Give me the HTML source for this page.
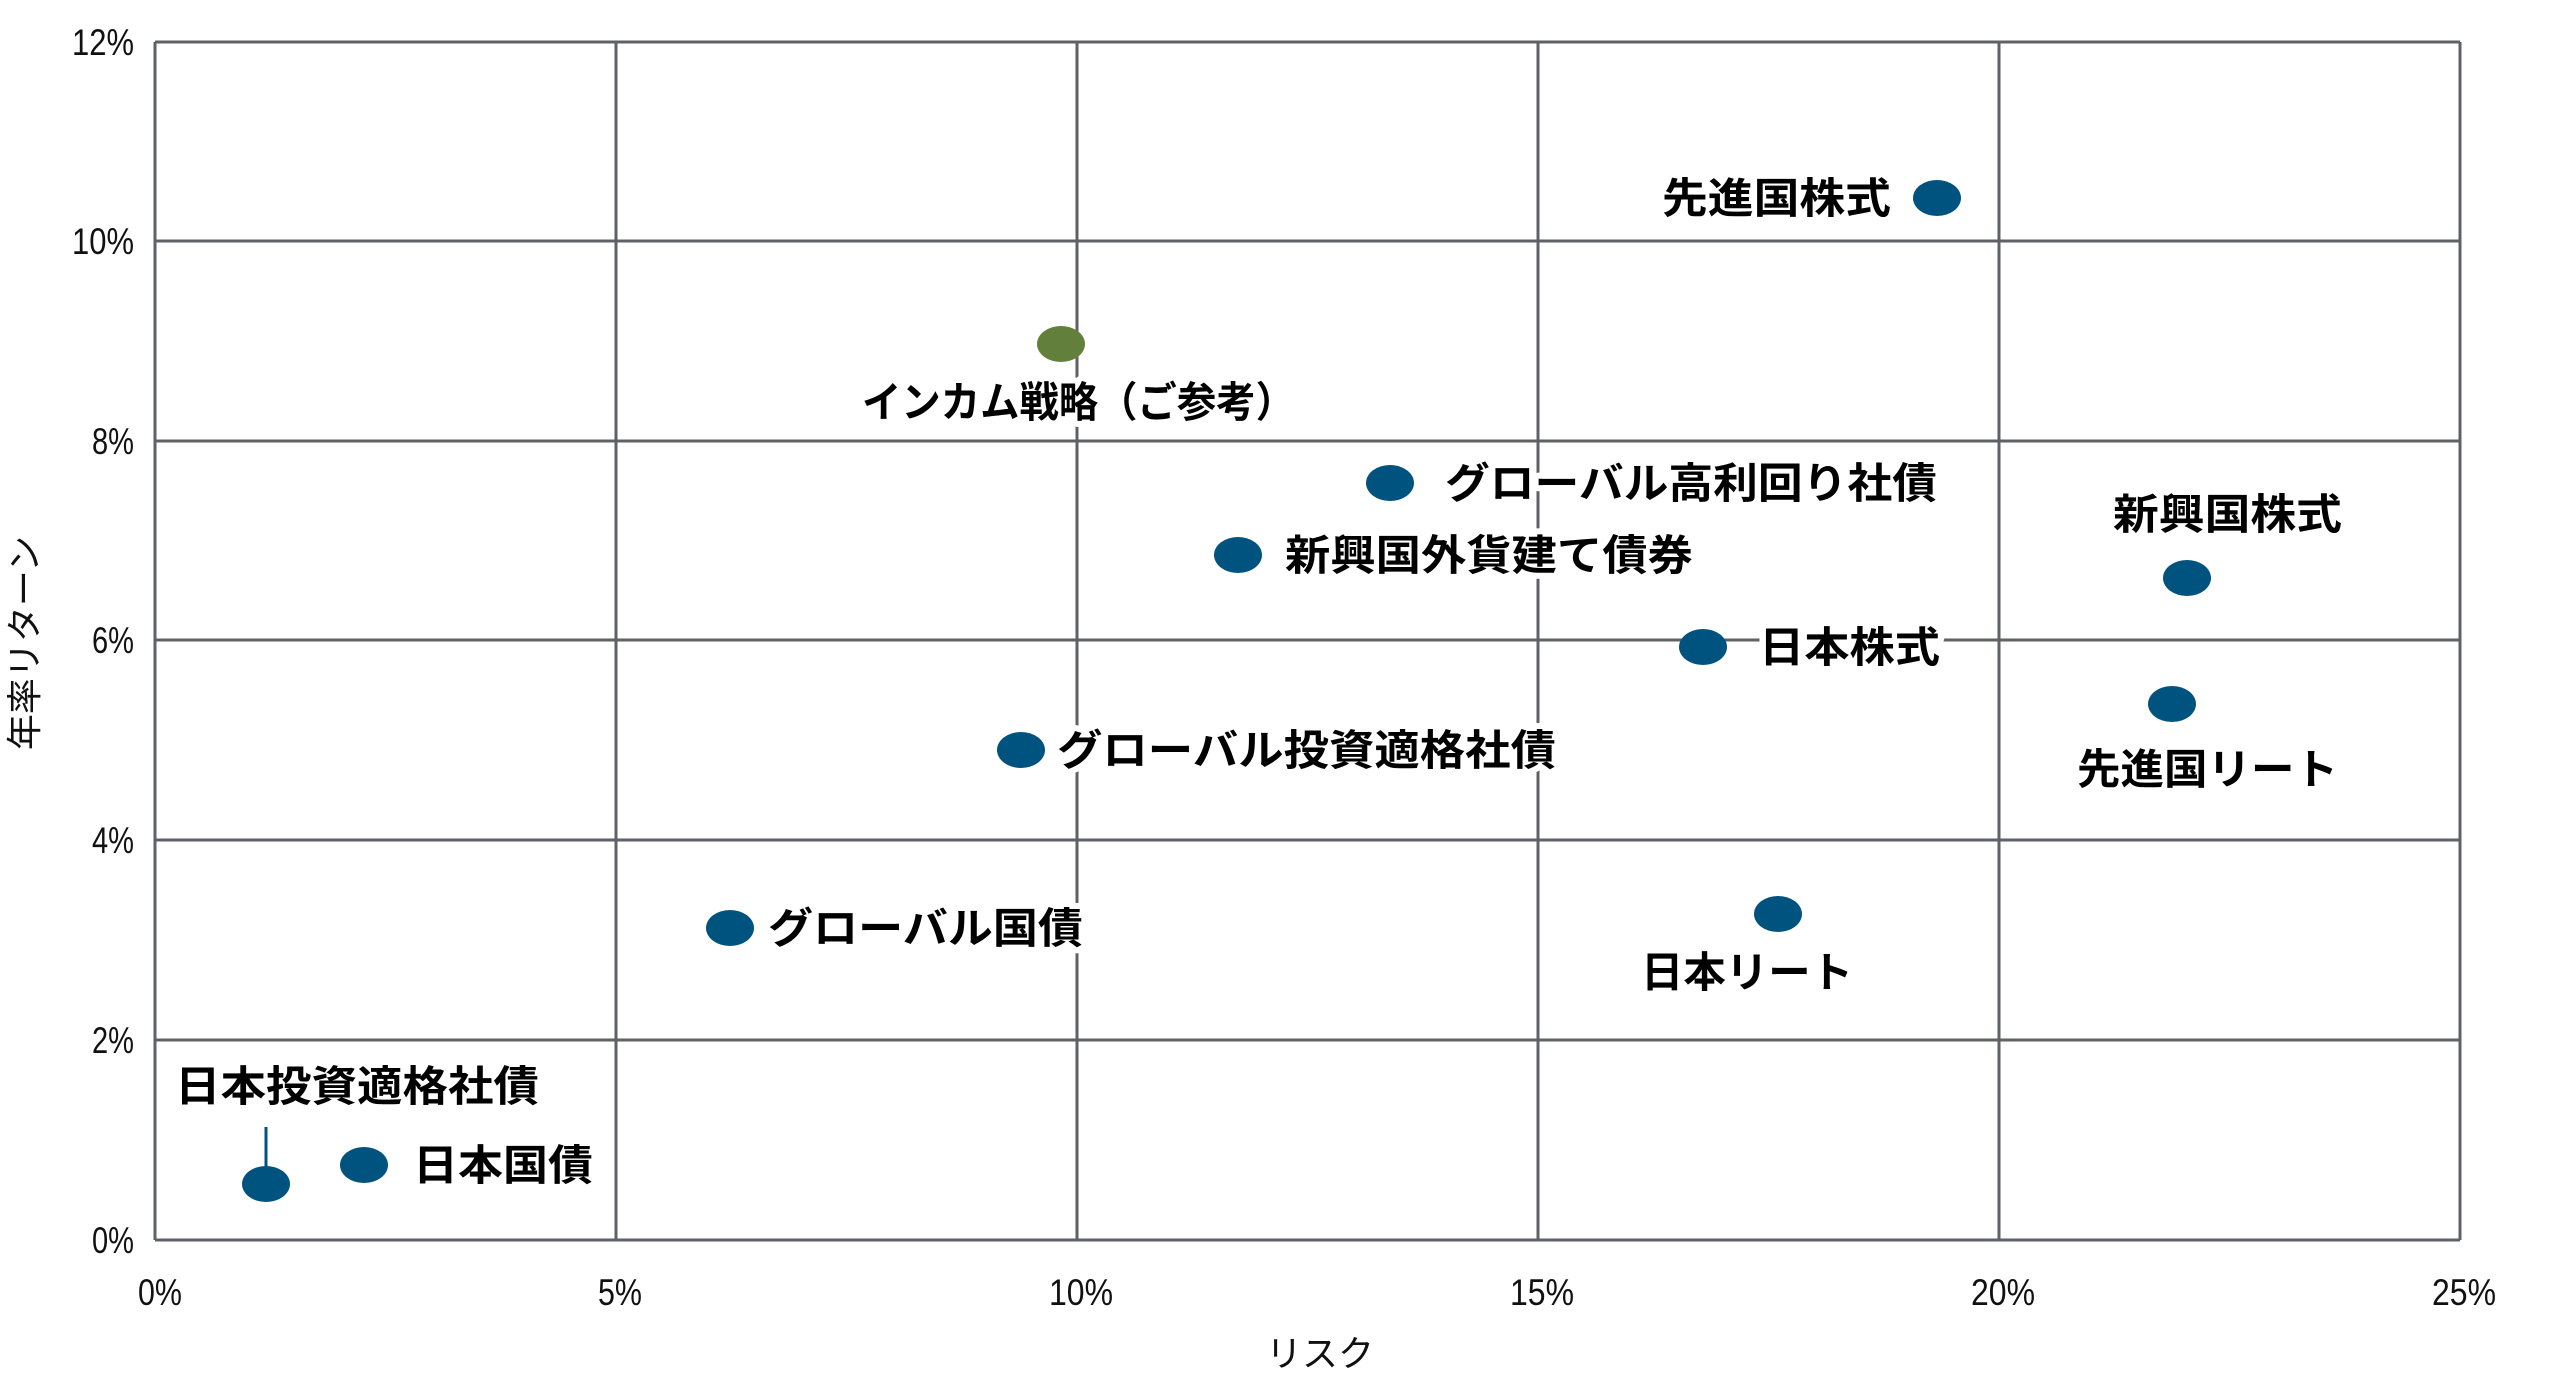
<!DOCTYPE html>
<html><head><meta charset="utf-8"><style>
html,body{margin:0;padding:0;background:#fff;}
svg{display:block;}
.t{font-family:"Liberation Sans","Noto Sans CJK JP",sans-serif;font-size:37px;fill:#111;}
.l{font-family:"Noto Sans CJK JP","Liberation Sans",sans-serif;font-size:42px;font-weight:bold;fill:#000;stroke:#fff;stroke-width:12px;paint-order:stroke;stroke-linejoin:round;}
</style></head><body>
<svg width="2557" height="1391" viewBox="0 0 2557 1391" xmlns="http://www.w3.org/2000/svg">
<g stroke="#5f6166" stroke-width="3" fill="none">
<line x1="155" y1="42" x2="2460" y2="42"/>
<line x1="155" y1="241" x2="2460" y2="241"/>
<line x1="155" y1="441" x2="2460" y2="441"/>
<line x1="155" y1="640" x2="2460" y2="640"/>
<line x1="155" y1="840" x2="2460" y2="840"/>
<line x1="155" y1="1040" x2="2460" y2="1040"/>
<line x1="155" y1="1240" x2="2460" y2="1240"/>
<line x1="155" y1="42" x2="155" y2="1240"/>
<line x1="616" y1="42" x2="616" y2="1240"/>
<line x1="1077" y1="42" x2="1077" y2="1240"/>
<line x1="1538" y1="42" x2="1538" y2="1240"/>
<line x1="1999" y1="42" x2="1999" y2="1240"/>
<line x1="2460" y1="42" x2="2460" y2="1240"/>
</g>
<g class="t" text-anchor="end">
<text x="134" y="55" textLength="62" lengthAdjust="spacingAndGlyphs">12%</text>
<text x="134" y="254" textLength="62" lengthAdjust="spacingAndGlyphs">10%</text>
<text x="134" y="454" textLength="42" lengthAdjust="spacingAndGlyphs">8%</text>
<text x="134" y="653" textLength="42" lengthAdjust="spacingAndGlyphs">6%</text>
<text x="134" y="853" textLength="42" lengthAdjust="spacingAndGlyphs">4%</text>
<text x="134" y="1053" textLength="42" lengthAdjust="spacingAndGlyphs">2%</text>
<text x="134" y="1253" textLength="42" lengthAdjust="spacingAndGlyphs">0%</text>
</g>
<g class="t" text-anchor="middle">
<text x="160" y="1305" textLength="44" lengthAdjust="spacingAndGlyphs">0%</text>
<text x="620" y="1305" textLength="44" lengthAdjust="spacingAndGlyphs">5%</text>
<text x="1081" y="1305" textLength="64" lengthAdjust="spacingAndGlyphs">10%</text>
<text x="1542" y="1305" textLength="64" lengthAdjust="spacingAndGlyphs">15%</text>
<text x="2003" y="1305" textLength="64" lengthAdjust="spacingAndGlyphs">20%</text>
<text x="2464" y="1305" textLength="64" lengthAdjust="spacingAndGlyphs">25%</text>
<text x="1320" y="1366" style="font-size:36px">リスク</text>
<text transform="translate(37,643) rotate(-90)" style="font-size:36px">年率リターン</text>
</g>
<line x1="266" y1="1127" x2="266" y2="1175" stroke="#00527f" stroke-width="3"/>
<g fill="#00527f">
<ellipse cx="1937" cy="198" rx="24" ry="18"/>
<ellipse cx="1390" cy="483" rx="24" ry="18"/>
<ellipse cx="1238" cy="555" rx="24" ry="18"/>
<ellipse cx="1703" cy="647" rx="24" ry="18"/>
<ellipse cx="2187" cy="578" rx="24" ry="18"/>
<ellipse cx="2172" cy="704" rx="24" ry="18"/>
<ellipse cx="1021" cy="750" rx="24" ry="18"/>
<ellipse cx="1778" cy="914" rx="24" ry="18"/>
<ellipse cx="730" cy="928" rx="24" ry="18"/>
<ellipse cx="266" cy="1184" rx="24" ry="18"/>
<ellipse cx="364" cy="1165" rx="24" ry="18"/>
</g>
<ellipse cx="1061" cy="344" rx="24" ry="18" fill="#62803c"/>
<g class="l">
<text x="1662" y="213" textLength="229" lengthAdjust="spacingAndGlyphs">先進国株式</text>
<text x="862" y="417" textLength="433" lengthAdjust="spacingAndGlyphs">インカム戦略（ご参考）</text>
<text x="1445" y="498" textLength="492" lengthAdjust="spacingAndGlyphs">グローバル高利回り社債</text>
<text x="1285" y="570" textLength="408" lengthAdjust="spacingAndGlyphs">新興国外貨建て債券</text>
<text x="1759" y="662" textLength="181" lengthAdjust="spacingAndGlyphs">日本株式</text>
<text x="2113" y="529" textLength="229" lengthAdjust="spacingAndGlyphs">新興国株式</text>
<text x="2077" y="784" textLength="261" lengthAdjust="spacingAndGlyphs">先進国リート</text>
<text x="1057" y="765" textLength="499" lengthAdjust="spacingAndGlyphs">グローバル投資適格社債</text>
<text x="1641" y="987" textLength="212" lengthAdjust="spacingAndGlyphs">日本リート</text>
<text x="768" y="943" textLength="315" lengthAdjust="spacingAndGlyphs">グローバル国債</text>
<text x="175" y="1101" textLength="364" lengthAdjust="spacingAndGlyphs">日本投資適格社債</text>
<text x="413" y="1180" textLength="180" lengthAdjust="spacingAndGlyphs">日本国債</text>
</g>
</svg>
</body></html>
